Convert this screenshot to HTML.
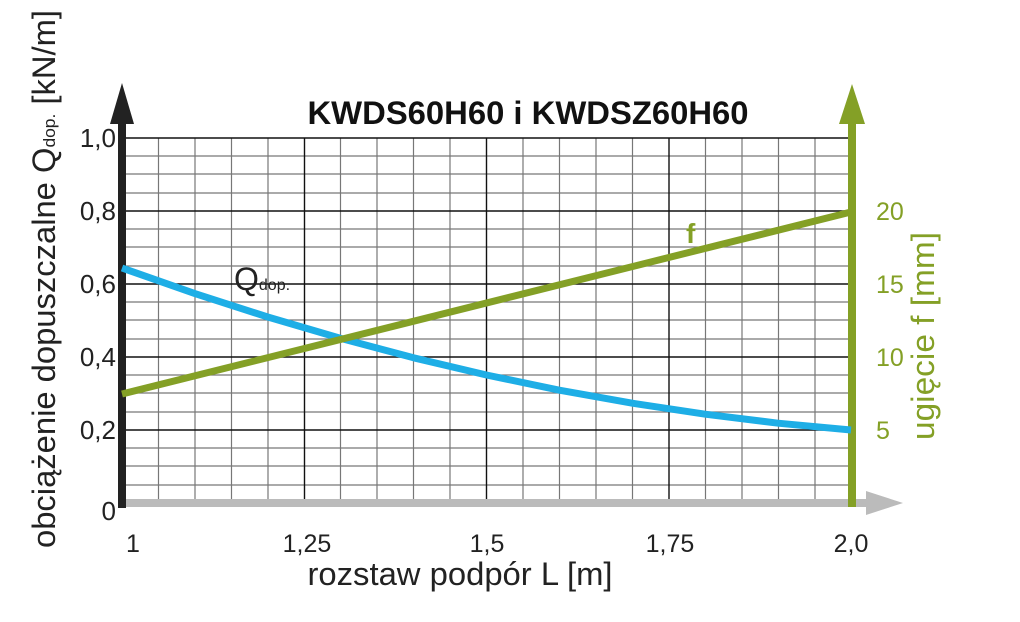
<!DOCTYPE html>
<html><head><meta charset="utf-8"><style>
html,body{margin:0;padding:0;background:#fff;width:1020px;height:622px;overflow:hidden}
text{font-family:"Liberation Sans",sans-serif}
</style></head><body>
<svg width="1020" height="622" viewBox="0 0 1020 622" xmlns="http://www.w3.org/2000/svg">
<g stroke="#777" stroke-width="1.2">
<line x1="122" x2="851" y1="156" y2="156"/><line x1="122" x2="851" y1="174" y2="174"/><line x1="122" x2="851" y1="193" y2="193"/>
<line x1="122" x2="851" y1="229" y2="229"/><line x1="122" x2="851" y1="247" y2="247"/><line x1="122" x2="851" y1="266" y2="266"/>
<line x1="122" x2="851" y1="302" y2="302"/><line x1="122" x2="851" y1="320" y2="320"/><line x1="122" x2="851" y1="339" y2="339"/>
<line x1="122" x2="851" y1="375" y2="375"/><line x1="122" x2="851" y1="393" y2="393"/><line x1="122" x2="851" y1="412" y2="412"/>
<line x1="122" x2="851" y1="448" y2="448"/><line x1="122" x2="851" y1="466" y2="466"/><line x1="122" x2="851" y1="485" y2="485"/>
<line y1="138" y2="503" x1="158.5" x2="158.5"/><line y1="138" y2="503" x1="195" x2="195"/><line y1="138" y2="503" x1="231.5" x2="231.5"/><line y1="138" y2="503" x1="268" x2="268"/>
<line y1="138" y2="503" x1="340.5" x2="340.5"/><line y1="138" y2="503" x1="377" x2="377"/><line y1="138" y2="503" x1="413.5" x2="413.5"/><line y1="138" y2="503" x1="450" x2="450"/>
<line y1="138" y2="503" x1="523" x2="523"/><line y1="138" y2="503" x1="559.5" x2="559.5"/><line y1="138" y2="503" x1="596" x2="596"/><line y1="138" y2="503" x1="632.5" x2="632.5"/>
<line y1="138" y2="503" x1="705.5" x2="705.5"/><line y1="138" y2="503" x1="742" x2="742"/><line y1="138" y2="503" x1="778.5" x2="778.5"/><line y1="138" y2="503" x1="815" x2="815"/>
</g>
<g stroke="#111" stroke-width="1.4">
<line x1="122" x2="851" y1="138" y2="138"/><line x1="122" x2="851" y1="211" y2="211"/><line x1="122" x2="851" y1="284" y2="284"/><line x1="122" x2="851" y1="357" y2="357"/><line x1="122" x2="851" y1="430" y2="430"/>
<line y1="138" y2="503" x1="304.5" x2="304.5"/><line y1="138" y2="503" x1="486.5" x2="486.5"/><line y1="138" y2="503" x1="669" x2="669"/>
</g>
<rect x="122" y="499" width="745" height="8" fill="#bbb"/>
<polygon points="866,491 903,503 866,515" fill="#bbb"/>
<rect x="848" y="122" width="8" height="385" fill="#84a026"/>
<polygon points="839,124 852,84 865,124" fill="#84a026"/>
<rect x="118" y="118" width="8" height="390" fill="#222"/>
<polygon points="110,124 122,83 134,124" fill="#222"/>
<polyline points="122,268 194.9,293.6 267.8,317 340.7,338.4 413.6,357.8 486.5,375 559.4,390.2 632.3,403.2 705.2,414.2 778.1,423.2 851,430" fill="none" stroke="#1eaee6" stroke-width="7" stroke-linejoin="round"/>
<line x1="122" y1="394" x2="851" y2="212" stroke="#84a026" stroke-width="7"/>
<text x="528" y="124" font-size="32" font-weight="bold" text-anchor="middle" fill="#111" textLength="441" lengthAdjust="spacingAndGlyphs">KWDS60H60 i KWDSZ60H60</text>
<g font-size="26" fill="#222" text-anchor="end">
<text x="116" y="147">1,0</text><text x="116" y="220">0,8</text><text x="116" y="293">0,6</text><text x="116" y="366">0,4</text><text x="116" y="439">0,2</text><text x="116" y="520">0</text>
</g>
<g font-size="25" fill="#222" text-anchor="middle">
<text x="133" y="552">1</text><text x="307" y="552">1,25</text><text x="487" y="552">1,5</text><text x="670" y="552">1,75</text><text x="851" y="552">2,0</text>
</g>
<text x="460" y="585" font-size="32" text-anchor="middle" fill="#222" textLength="305" lengthAdjust="spacingAndGlyphs">rozstaw podpór L [m]</text>
<g font-size="25" fill="#84a026">
<text x="876" y="220">20</text><text x="876" y="293">15</text><text x="876" y="366">10</text><text x="876" y="439">5</text>
</g>
<text transform="translate(934,336) rotate(-90)" font-size="32" text-anchor="middle" fill="#84a026" textLength="208" lengthAdjust="spacingAndGlyphs">ugięcie f [mm]</text>
<text x="686" y="243" font-size="28" font-weight="bold" fill="#84a026">f</text>
<text x="234" y="290" font-size="32" fill="#222">Q<tspan font-size="16">dop.</tspan></text>
<text transform="translate(55,279) rotate(-90)" font-size="32" text-anchor="middle" fill="#222" textLength="538" lengthAdjust="spacingAndGlyphs">obciążenie dopuszczalne Q<tspan font-size="17">dop.</tspan> [kN/m]</text>
</svg>
</body></html>
